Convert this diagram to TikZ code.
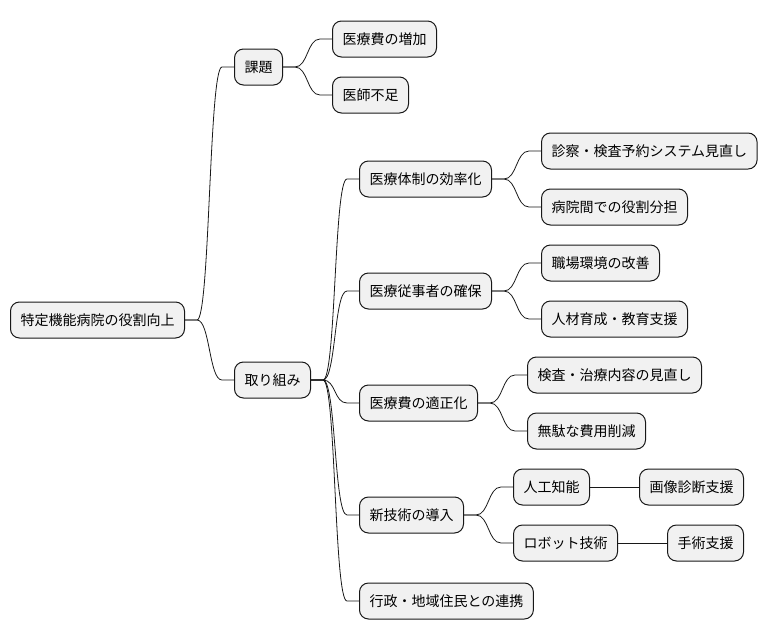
\documentclass[tikz,border=0pt]{standalone}
\usepackage{fontspec}
\setmainfont{Noto Sans CJK JP}
\usetikzlibrary{calc}

\definecolor{boxfill}{HTML}{F1F1F1}
\definecolor{boxline}{HTML}{181818}

\tikzset{
  topic/.style={draw=boxline,fill=boxfill,line width=1pt,rounded corners=9pt,
    anchor=west,minimum height=36pt,inner xsep=10pt,inner ysep=0pt,
    font=\fontsize{14pt}{16pt}\selectfont},
  edge/.style={draw=boxline,line width=0.8pt}
}
% S-shaped branch from parent to child
\newcommand{\branch}[2]{%
  \draw[edge] (#1.east) -- ++(12,0)
    .. controls ++(13,0) and ($(#2.west)+(-25,0)$) .. ($(#2.west)+(-12,0)$)
    -- (#2.west);}

\begin{document}
\begin{tikzpicture}[x=1pt,y=-1pt]
\useasboundingbox (0,0) rectangle (768,640);
\node[topic] (root) at (10,320) {特定機能病院の役割向上};
\node[topic] (kadai) at (234,67) {課題};
\node[topic] (iryohi) at (332,39) {医療費の増加};
\node[topic] (ishi) at (332,95) {医師不足};
\node[topic] (torikumi) at (234,380) {取り組み};
\node[topic] (taisei) at (359,179) {医療体制の効率化};
\node[topic] (yoyaku) at (541,151) {診察・検査予約システム見直し};
\node[topic] (buntan) at (541,207) {病院間での役割分担};
\node[topic] (kakuho) at (359,291) {医療従事者の確保};
\node[topic] (shokuba) at (541,263) {職場環境の改善};
\node[topic] (jinzai) at (541,319) {人材育成・教育支援};
\node[topic] (tekisei) at (359,403) {医療費の適正化};
\node[topic] (minaoshi) at (527,375) {検査・治療内容の見直し};
\node[topic] (muda) at (527,431) {無駄な費用削減};
\node[topic] (gijutsu) at (359,515) {新技術の導入};
\node[topic] (ai) at (513,487) {人工知能};
\node[topic] (gazo) at (639,487) {画像診断支援};
\node[topic] (robot) at (513,543) {ロボット技術};
\node[topic] (shujutsu) at (667,543) {手術支援};
\node[topic] (renkei) at (359,601) {行政・地域住民との連携};

\branch{root}{kadai}
\branch{root}{torikumi}
\branch{kadai}{iryohi}
\branch{kadai}{ishi}
\foreach \c in {taisei,kakuho,tekisei,gijutsu,renkei} {\branch{torikumi}{\c}}
\branch{taisei}{yoyaku}
\branch{taisei}{buntan}
\branch{kakuho}{shokuba}
\branch{kakuho}{jinzai}
\branch{tekisei}{minaoshi}
\branch{tekisei}{muda}
\branch{gijutsu}{ai}
\branch{gijutsu}{robot}
\draw[edge] (ai) -- (gazo);
\draw[edge] (robot) -- (shujutsu);
\end{tikzpicture}
\end{document}
